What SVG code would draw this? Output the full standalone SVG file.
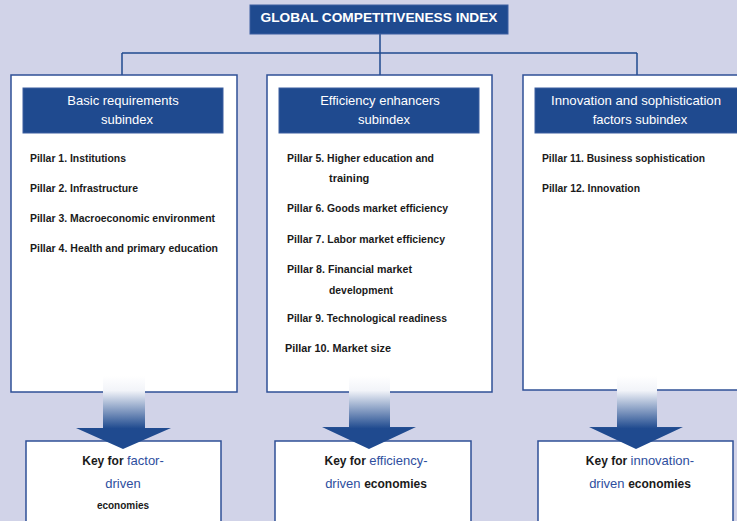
<svg xmlns="http://www.w3.org/2000/svg" width="737" height="521" viewBox="0 0 737 521">
<defs>
<linearGradient id="ag" x1="0" y1="0" x2="0" y2="1">
<stop offset="0" stop-color="#ffffff"/>
<stop offset="0.2" stop-color="#f2f4f9"/>
<stop offset="0.72" stop-color="#1f4a8f"/>
<stop offset="1" stop-color="#1f4a8f"/>
</linearGradient>
<style>
.bg{fill:#d1d3e8}
.box{fill:#ffffff;stroke:#2f5096;stroke-width:1.5}
.hdr{fill:#1f4a8f;stroke:#3d5fa0;stroke-width:1}
.ht{font-family:"Liberation Sans",Arial,sans-serif;font-size:13px;fill:#ffffff;text-anchor:middle}
.tt{font-family:"Liberation Sans",Arial,sans-serif;font-size:12px;font-weight:bold;fill:#ffffff;text-anchor:middle}
.p{font-family:"Liberation Sans",Arial,sans-serif;font-size:11px;font-weight:bold;fill:#1a1a1a}
.k{font-family:"Liberation Sans",Arial,sans-serif;font-size:12px;font-weight:bold;fill:#1a1a1a}
.kb{font-family:"Liberation Sans",Arial,sans-serif;font-size:13px;fill:#2e4e9e;font-weight:normal}
.ks{font-family:"Liberation Sans",Arial,sans-serif;font-size:10px;font-weight:bold;fill:#1a1a1a}
.ln{stroke:#1f4a8f;stroke-width:1.5;fill:none}
.arr{fill:url(#ag)}
</style>
</defs>
<rect class="bg" x="0" y="0" width="737" height="521"/>

<g id="connectors">
<line class="ln" x1="380" y1="34" x2="380" y2="75"/>
<line class="ln" x1="122" y1="53" x2="637" y2="53"/>
<line class="ln" x1="122" y1="53" x2="122" y2="75"/>
<line class="ln" x1="637" y1="53" x2="637" y2="75"/>
</g>

<g id="title">
<rect class="hdr" x="250" y="5" width="258" height="29"/>
<text class="tt" x="379" y="21.5" textLength="237" lengthAdjust="spacingAndGlyphs">GLOBAL COMPETITIVENESS INDEX</text>
</g>

<g id="basic">
<rect class="box" x="11" y="75" width="226" height="317"/>
<rect class="hdr" x="23" y="88" width="200" height="45"/>
<text class="ht" x="123" y="105">Basic requirements</text>
<text class="ht" x="127" y="124">subindex</text>
<text class="p" x="30" y="162" textLength="96" lengthAdjust="spacingAndGlyphs">Pillar 1. Institutions</text>
<text class="p" x="30" y="192" textLength="108" lengthAdjust="spacingAndGlyphs">Pillar 2. Infrastructure</text>
<text class="p" x="30" y="222" textLength="185" lengthAdjust="spacingAndGlyphs">Pillar 3. Macroeconomic environment</text>
<text class="p" x="30" y="252" textLength="188" lengthAdjust="spacingAndGlyphs">Pillar 4. Health and primary education</text>
</g>

<g id="efficiency">
<rect class="box" x="267" y="75" width="225" height="317"/>
<rect class="hdr" x="279" y="88" width="200" height="45"/>
<text class="ht" x="380" y="105">Efficiency enhancers</text>
<text class="ht" x="384" y="124">subindex</text>
<text class="p" x="287" y="162" textLength="147" lengthAdjust="spacingAndGlyphs">Pillar 5. Higher education and</text>
<text class="p" x="329" y="182">training</text>
<text class="p" x="287" y="212" textLength="161" lengthAdjust="spacingAndGlyphs">Pillar 6. Goods market  efficiency</text>
<text class="p" x="287" y="243" textLength="158" lengthAdjust="spacingAndGlyphs">Pillar 7. Labor market efficiency</text>
<text class="p" x="287" y="273" textLength="125" lengthAdjust="spacingAndGlyphs">Pillar 8. Financial market</text>
<text class="p" x="329" y="294" textLength="64" lengthAdjust="spacingAndGlyphs">development</text>
<text class="p" x="287" y="322" textLength="160" lengthAdjust="spacingAndGlyphs">Pillar 9. Technological readiness</text>
<text class="p" x="285" y="352" textLength="106" lengthAdjust="spacingAndGlyphs">Pillar 10.  Market size</text>
</g>

<g id="innovation">
<rect class="box" x="523" y="75" width="220" height="315"/>
<rect class="hdr" x="535" y="88" width="210" height="45"/>
<text class="ht" x="636" y="105" textLength="170" lengthAdjust="spacingAndGlyphs">Innovation and sophistication</text>
<text class="ht" x="640" y="124">factors subindex</text>
<text class="p" x="542" y="162" textLength="163" lengthAdjust="spacingAndGlyphs">Pillar 11.  Business sophistication</text>
<text class="p" x="542" y="192" textLength="98" lengthAdjust="spacingAndGlyphs">Pillar 12. Innovation</text>
</g>

<g id="key-factor">
<rect class="box" x="26" y="441" width="195" height="90"/>
<text x="123" y="465" text-anchor="middle"><tspan class="k">Key for </tspan><tspan class="kb">factor-</tspan></text>
<text class="kb" x="123" y="488" text-anchor="middle">driven</text>
<text class="ks" x="123" y="509" text-anchor="middle">economies</text>
</g>

<g id="key-efficiency">
<rect class="box" x="275" y="441" width="196" height="90"/>
<text x="376" y="465" text-anchor="middle"><tspan class="k">Key for </tspan><tspan class="kb">efficiency-</tspan></text>
<text x="376" y="488" text-anchor="middle"><tspan class="kb">driven </tspan><tspan class="k">economies</tspan></text>
</g>

<g id="key-innovation">
<rect class="box" x="538" y="441" width="195" height="90"/>
<text x="640" y="465" text-anchor="middle"><tspan class="k">Key for </tspan><tspan class="kb">innovation-</tspan></text>
<text x="640" y="488" text-anchor="middle"><tspan class="kb">driven </tspan><tspan class="k">economies</tspan></text>
</g>

<g id="arrows">
<polygon class="arr" points="103,376 145,376 145,428 171,428 123,449 76,428 103,428"/>
<polygon class="arr" points="349,376 390,376 390,427 416,427 369,449 322,427 349,427"/>
<polygon class="arr" points="617,376 657,376 657,427 683,427 636,449 589,427 617,427"/>
</g>
</svg>
